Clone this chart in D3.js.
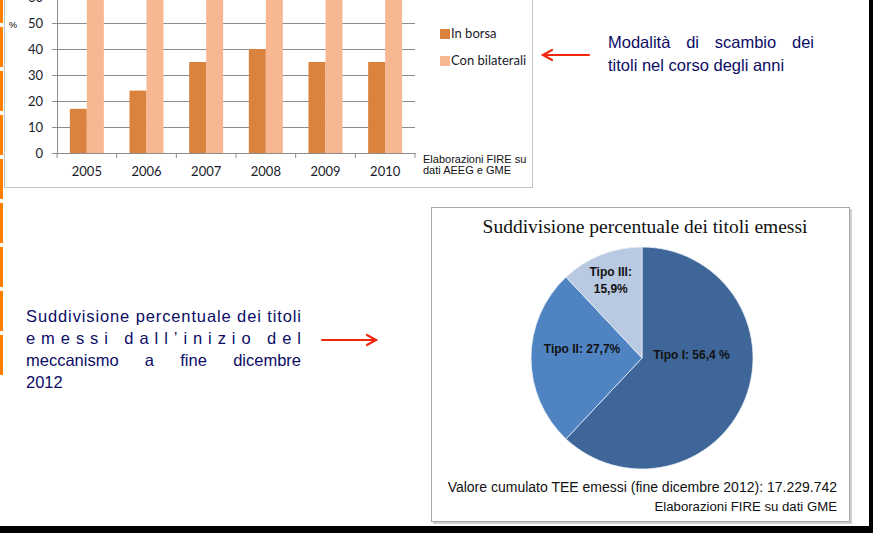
<!DOCTYPE html>
<html>
<head>
<meta charset="utf-8">
<script src="https://cdn.jsdelivr.net/npm/d3@7"></script>
<style>
  body { margin: 0; background: #fff; }
  svg { display: block; }
</style>
</head>
<body>
<div class="chart"></div>
<script>
// bar chart data (percent of certificates traded)
const years = ["2005", "2006", "2007", "2008", "2009", "2010"];
const inBorsa = [17, 24, 35, 40, 35, 35];
const conBilaterali = [83, 76, 65, 60, 65, 65];
const seriesNames = ["In borsa", "Con bilaterali"];
const yTicks = [0, 10, 20, 30, 40, 50, 60];

// pie data: shares as drawn, labels as printed
const pieNames = ["Tipo I", "Tipo II", "Tipo III"];
const pieShares = [62.0, 26.0, 12.0];
const pieLabels = [["Tipo I: 56,4 %"], ["Tipo II: 27,7%"], ["Tipo III:", "15,9%"]];

const navy = "#0c0c66";
const svg = d3.select(".chart").append("svg")
  .attr("width", 873)
  .attr("height", 533);

// orange segments along the left edge of the slide
const segY = d3.range(-17, 376, 44);
svg.selectAll("rect.seg")
  .data(segY)
  .enter()
  .append("rect")
  .attr("class", "seg")
  .attr("x", 0)
  .attr("y", d => d)
  .attr("width", 3)
  .attr("height", 40)
  .attr("fill", "#ff8000");

// ---------- bar chart ----------
svg.append("rect")
  .attr("x", 4.5).attr("y", -10)
  .attr("width", 528).attr("height", 197.5)
  .attr("fill", "none")
  .attr("stroke", "#c4c4c4");

const xScale = d3.scaleBand().domain(years).range([57, 415]);
const yScale = d3.scaleLinear().domain([0, 60]).range([153, -3]);
const xSub = d3.scaleBand().domain(seriesNames).range([0, 34]);
const color = d3.scaleOrdinal().domain(seriesNames).range(["#d9833f", "#f8b793"]);

// gridlines
svg.append("g")
  .attr("transform", "translate(57,0)")
  .call(d3.axisLeft(yScale).tickValues(yTicks).tickSize(-(415 - 57)).tickFormat(""))
  .call(g => g.select(".domain").remove())
  .call(g => g.selectAll("line").attr("stroke", "#8c8c8c"));

const barData = years.map((y, i) => ({ year: y, values: [inBorsa[i], conBilaterali[i]] }));
const groups = svg.selectAll("g.year")
  .data(barData)
  .enter()
  .append("g")
  .attr("class", "year")
  .attr("transform", d => `translate(${xScale(d.year) + (xScale.bandwidth() - 34) / 2},0)`);

groups.selectAll("rect")
  .data(d => d.values.map((v, k) => ({ name: seriesNames[k], value: v })))
  .enter()
  .append("rect")
  .attr("x", d => xSub(d.name))
  .attr("y", d => yScale(d.value))
  .attr("width", xSub.bandwidth())
  .attr("height", d => yScale(0) - yScale(d.value))
  .attr("fill", d => color(d.name));

// y axis
svg.append("g")
  .attr("transform", "translate(57,0)")
  .call(d3.axisLeft(yScale).tickValues(yTicks).tickSize(5).tickPadding(9))
  .call(g => g.select(".domain").attr("stroke", "#8c8c8c"))
  .call(g => g.selectAll("line").attr("stroke", "#8c8c8c"))
  .call(g => g.selectAll("text")
    .attr("font-family", "Lato, sans-serif")
    .attr("font-size", 13)
    .attr("fill", "#1a1a2a"));

// x axis
svg.append("g")
  .attr("transform", "translate(0,153)")
  .call(d3.axisBottom(xScale).tickSize(0).tickPadding(14))
  .call(g => g.select(".domain").attr("stroke", "#8c8c8c"))
  .call(g => g.selectAll("text")
    .attr("font-family", "Lato, sans-serif")
    .attr("font-size", 13)
    .attr("fill", "#1a1a2a"));

svg.append("g")
  .selectAll("line")
  .data(years.map(d => xScale(d)).concat([xScale.range()[1]]))
  .enter()
  .append("line")
  .attr("x1", d => d).attr("x2", d => d)
  .attr("y1", 153).attr("y2", 158)
  .attr("stroke", "#8c8c8c");

svg.append("text")
  .attr("x", 9).attr("y", 28)
  .attr("font-family", "Liberation Sans, Arial, sans-serif")
  .attr("font-size", 9)
  .text("%");

// legend
const legend = svg.selectAll("g.legend")
  .data(seriesNames)
  .enter()
  .append("g")
  .attr("class", "legend")
  .attr("transform", (d, i) => `translate(440,${29 + i * 27})`);
legend.append("rect")
  .attr("width", 10).attr("height", 10)
  .attr("fill", d => color(d));
legend.append("text")
  .attr("x", 11).attr("y", 9)
  .attr("font-family", "Lato, sans-serif")
  .attr("font-size", 13)
  .attr("fill", "#1a1a2a")
  .text(d => d);

svg.append("text")
  .attr("font-family", "Liberation Sans, Arial, sans-serif")
  .attr("font-size", 11)
  .attr("fill", "#111")
  .selectAll("tspan")
  .data(["Elaborazioni FIRE su", "dati AEEG e GME"])
  .enter()
  .append("tspan")
  .attr("x", 423)
  .attr("y", (d, i) => 163 + i * 11)
  .text(d => d);

// ---------- arrows ----------
function arrow(x1, x2, y) {
  const dir = Math.sign(x2 - x1);
  const g = svg.append("g")
    .attr("stroke", "#f02810")
    .attr("stroke-width", 2.2)
    .attr("fill", "none")
    .attr("stroke-linecap", "round");
  g.append("line").attr("x1", x1).attr("x2", x2).attr("y1", y).attr("y2", y);
  g.append("path").attr("d", `M${x2 - dir * 9},${y - 5}L${x2},${y}L${x2 - dir * 9},${y + 5}`);
}
arrow(589, 543, 55);
arrow(322, 376, 340);

// ---------- justified slide text ----------
function justify(words, x0, x1, y) {
  const t = svg.append("g")
    .attr("font-family", "Liberation Sans, Arial, sans-serif")
    .attr("font-size", 16.5)
    .attr("fill", navy);
  const nodes = words.map(w => t.append("text").attr("y", y).text(w));
  const widths = nodes.map(n => n.node().getComputedTextLength());
  const gap = words.length > 1 ? (x1 - x0 - d3.sum(widths)) / (words.length - 1) : 0;
  let x = x0;
  nodes.forEach((n, i) => { n.attr("x", x); x += widths[i] + gap; });
}
function plain(str, x, y, len) {
  const t = svg.append("text")
    .attr("x", x).attr("y", y)
    .attr("font-family", "Liberation Sans, Arial, sans-serif")
    .attr("font-size", 16.5)
    .attr("fill", navy)
    .text(str);
  if (len) t.attr("textLength", len).attr("lengthAdjust", "spacing");
}

justify(["Modalità", "di", "scambio", "dei"], 608, 814, 48);
plain("titoli nel corso degli anni", 608, 71);

plain("Suddivisione percentuale dei titoli", 26, 322, 275);
plain("emessi dall’inizio del", 26, 344, 275);
justify(["meccanismo", "a", "fine", "dicembre"], 26, 301, 366);
plain("2012", 26, 388);

// ---------- pie chart ----------
svg.append("rect")
  .attr("x", 433).attr("y", 209)
  .attr("width", 419).attr("height", 315)
  .attr("fill", "#d0d0d0");
svg.append("rect")
  .attr("x", 431.5).attr("y", 207.5)
  .attr("width", 418).attr("height", 314)
  .attr("fill", "#fff")
  .attr("stroke", "#a8a8a8");

svg.append("text")
  .attr("x", 645).attr("y", 233)
  .attr("text-anchor", "middle")
  .attr("font-family", "Liberation Serif, Times New Roman, serif")
  .attr("font-size", 19.5)
  .attr("fill", "#111")
  .text("Suddivisione percentuale dei titoli emessi");

const pieColors = ["#3e6698", "#4f83c2", "#b9c9e1"];
const cx = 642, cy = 358, r = 111;
const pie = d3.pie().sort(null).value(d => d.value);
const arcs = pie(pieNames.map((n, i) => ({ name: n, value: pieShares[i], label: pieLabels[i] })));
const arc = d3.arc().innerRadius(0).outerRadius(r);
const pg = svg.append("g").attr("transform", `translate(${cx},${cy})`);

pg.selectAll("path")
  .data(arcs)
  .enter()
  .append("path")
  .attr("d", arc)
  .attr("fill", (d, i) => pieColors[i])
  .attr("stroke", "#e8eef6")
  .attr("stroke-width", 0.8);

// label positions: radius along the slice mid angle plus a small nudge
const labelR = [50, 60, 85];
const nudge = [[3, -21], [0, -9], [0, -7]];
pg.selectAll("text.lab")
  .data(arcs)
  .enter()
  .append("text")
  .attr("class", "lab")
  .attr("text-anchor", "middle")
  .attr("font-family", "Liberation Sans Narrow, Arial Narrow, sans-serif")
  .attr("font-weight", "bold")
  .attr("font-size", 12)
  .attr("fill", "#111")
  .each(function(d, i) {
    const a = (d.startAngle + d.endAngle) / 2;
    const px = Math.sin(a) * labelR[i] + nudge[i][0];
    const py = -Math.cos(a) * labelR[i] + nudge[i][1];
    d3.select(this).selectAll("tspan")
      .data(d.data.label)
      .enter()
      .append("tspan")
      .attr("x", px)
      .attr("y", (s, k) => py + 4 + k * 17)
      .text(s => s);
  });

svg.append("text")
  .attr("x", 837).attr("y", 492)
  .attr("text-anchor", "end")
  .attr("font-family", "Liberation Sans, Arial, sans-serif")
  .attr("font-size", 14)
  .attr("fill", "#111")
  .text("Valore cumulato TEE emessi (fine dicembre 2012): 17.229.742");
svg.append("text")
  .attr("x", 837).attr("y", 511)
  .attr("text-anchor", "end")
  .attr("font-family", "Liberation Sans, Arial, sans-serif")
  .attr("font-size", 13.2)
  .attr("fill", "#111")
  .text("Elaborazioni FIRE su dati GME");

// black frame on right and bottom
svg.append("rect").attr("x", 869).attr("y", 0).attr("width", 4).attr("height", 533).attr("fill", "#000");
svg.append("rect").attr("x", 0).attr("y", 526).attr("width", 873).attr("height", 7).attr("fill", "#000");
</script>
</body>
</html>
